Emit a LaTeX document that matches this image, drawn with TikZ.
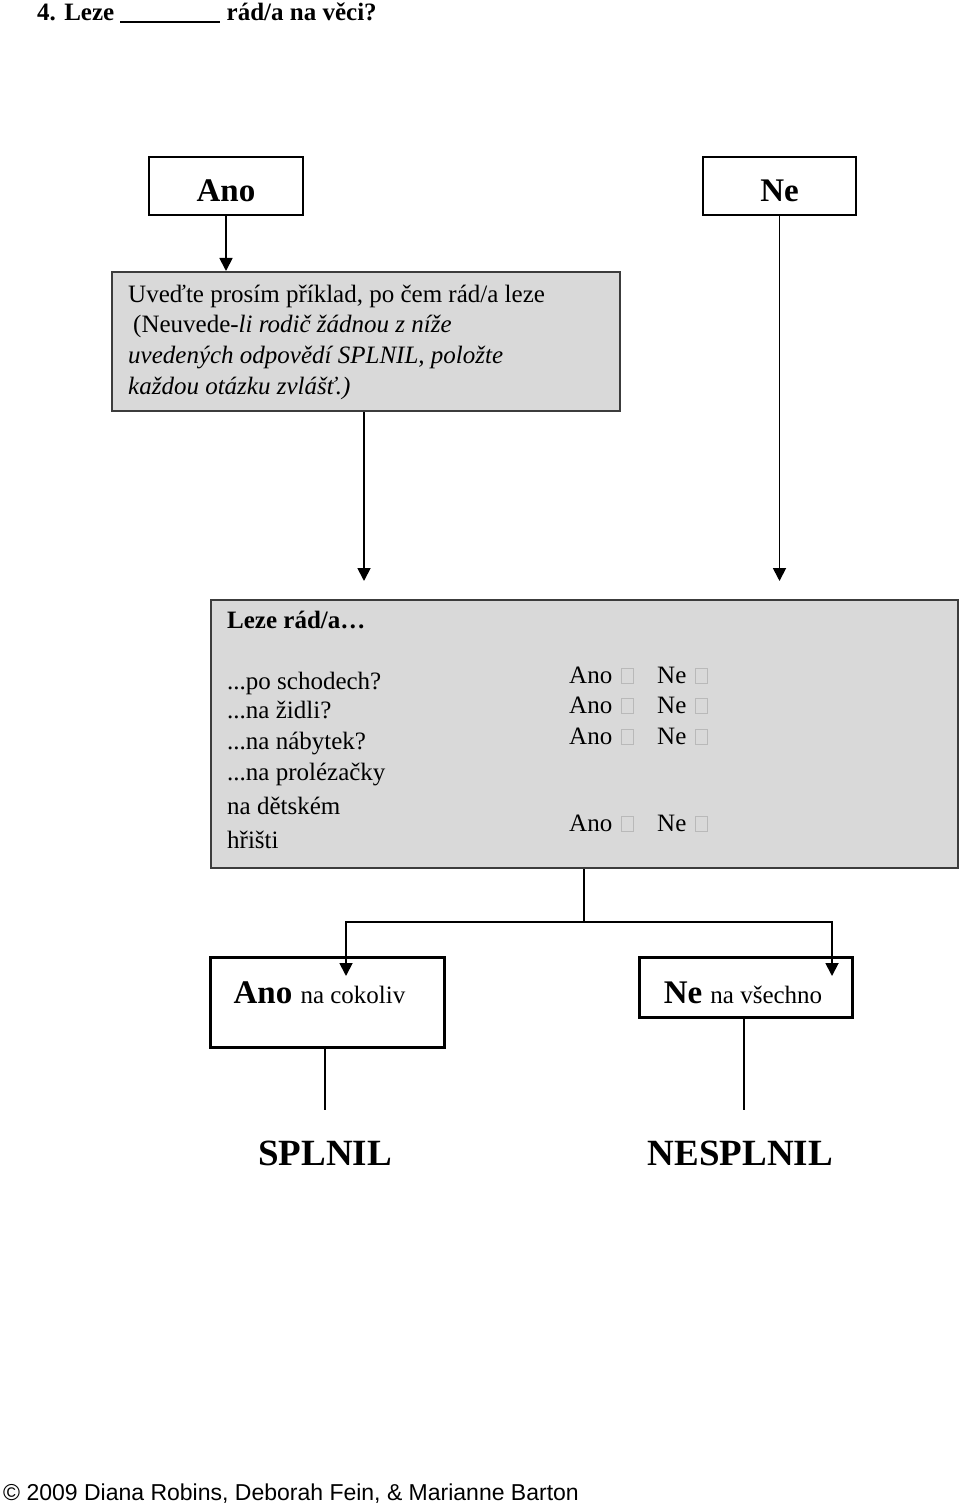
\documentclass[tikz,border=0pt]{standalone}
\usepackage{fontspec}
\setmainfont{Liberation Serif}
\newfontfamily\arialfont{Liberation Sans}
\usetikzlibrary{arrows.meta}
\definecolor{boxgray}{RGB}{217,217,217}
\definecolor{edgegray}{RGB}{60,60,60}
\definecolor{chkgray}{RGB}{185,185,185}
\begin{document}
\begin{tikzpicture}[x=1pt,y=-1pt,
  whitebox/.style={draw=black,line width=2.6pt,fill=white,inner sep=0pt},
  graybox/.style={draw=edgegray,line width=2pt,fill=boxgray,inner sep=0pt,anchor=north west},
  txt/.style={anchor=base west,inner sep=0pt,font=\fontsize{25}{29}\selectfont},
  itxt/.style={txt,font=\fontsize{25}{29}\selectfont\itshape},
  bigtxt/.style={anchor=base,inner sep=0pt,font=\fontsize{33}{36}\selectfont\bfseries},
  arr/.style={line width=1.8pt,-{Triangle[width=13pt,length=13pt]}},
  ln/.style={line width=1.8pt},
  chk/.style={draw=chkgray,line width=1pt}]
\useasboundingbox (0,0) rectangle (960,1506);
\fill[white] (0,0) rectangle (960,1506);

% title
\node[txt,font=\fontsize{25}{29}\selectfont\bfseries] (title) at (37,21) {4. Leze \rule[-2.5pt]{100pt}{2pt} rád/a na věci?};

% top boxes
\node[whitebox,minimum width=154pt,minimum height=58pt] (ano) at (226,186) {};
\node[whitebox,minimum width=153pt,minimum height=58pt] (ne) at (779.5,186) {};
\node[bigtxt] (anot) at (226,202) {Ano};
\node[bigtxt] (net) at (779.5,202) {Ne};

% gray box 1
\node[graybox,minimum width=508pt,minimum height=139pt] (q) at (111,271) {};
\node[txt] (q1) at (128,302) {Uveďte prosím příklad, po čem rád/a leze};
\node[txt] (q2) at (133,332) {(Neuvede-\textit{li rodič žádnou z níže}};
\node[itxt] (q3) at (128,363) {uvedených odpovědí SPLNIL, položte};
\node[itxt] (q4) at (128,394) {každou otázku zvlášť.)};

\draw[arr] (ano.south) -- (ano.south |- q.north);

% arrows to box 2
\coordinate (e1) at (364,581);
\coordinate (e2) at (779.5,581);
\draw[arr] (q.south -| e1) -- (e1);
\draw[arr] (ne.south) -- (e2);

% gray box 2
\node[graybox,minimum width=747pt,minimum height=268pt] (r) at (210,599) {};
\node[txt,font=\fontsize{25}{29}\selectfont\bfseries] (r0) at (227,628) {Leze rád/a…};
\node[txt] (r1) at (227,689) {...po schodech?};
\node[txt] (r2) at (227,718) {...na židli?};
\node[txt] (r3) at (227,749) {...na nábytek?};
\node[txt] (r4) at (227,780) {...na prolézačky};
\node[txt] (r5) at (227,814) {na dětském};
\node[txt] (r6) at (227,848) {hřišti};
\foreach \b/\n in {683/a1,713/a2,744/a3,831/a4}{
  \node[txt] (\n) at (569,\b) {Ano};
  \node[txt] (n\n) at (657,\b) {Ne};
  \draw[chk] (621,\b-15) rectangle (633,\b);
  \draw[chk] (695,\b-15) rectangle (707,\b);
}

% split
\coordinate (j) at (584,922);
\coordinate (jl) at (346,922);
\coordinate (jr) at (832,922);
\coordinate (tl) at (346,976);
\coordinate (tr) at (832,976);

% bottom boxes
\node[whitebox,anchor=north west,minimum width=234pt,minimum height=90pt] (yes) at (209,956) {};
\node[whitebox,anchor=north west,minimum width=213pt,minimum height=60pt] (no) at (638,956) {};
\node[anchor=base,inner sep=0pt] (yest) at (319.5,1003) {\fontsize{33}{36}\selectfont\bfseries Ano \fontsize{25}{29}\mdseries\selectfont na cokoliv};
\node[anchor=base,inner sep=0pt] (not) at (743,1003) {\fontsize{33}{36}\selectfont\bfseries Ne \fontsize{25}{29}\mdseries\selectfont na všechno};

\draw[ln] (r.south -| j) -- (j);
\draw[arr] (j) -- (jl) -- (tl);
\draw[arr] (j) -- (jr) -- (tr);

% results
\node[anchor=base,inner sep=0pt,font=\fontsize{37}{40}\selectfont\bfseries] (spl) at (325,1165) {SPLNIL};
\node[anchor=base,inner sep=0pt,font=\fontsize{37}{40}\selectfont\bfseries] (nespl) at (740.5,1165) {NESPLNIL};
\coordinate (s1) at (325,1110);
\coordinate (s2) at (744,1110);
\draw[ln] (yes.south -| s1) -- (s1);
\draw[ln] (no.south -| s2) -- (s2);

% footer
\node[anchor=base west,inner sep=0pt,font=\arialfont\fontsize{23}{26}\selectfont] (foot) at (3,1500) {© 2009 Diana Robins, Deborah Fein, \& Marianne Barton};
\end{tikzpicture}
\end{document}
